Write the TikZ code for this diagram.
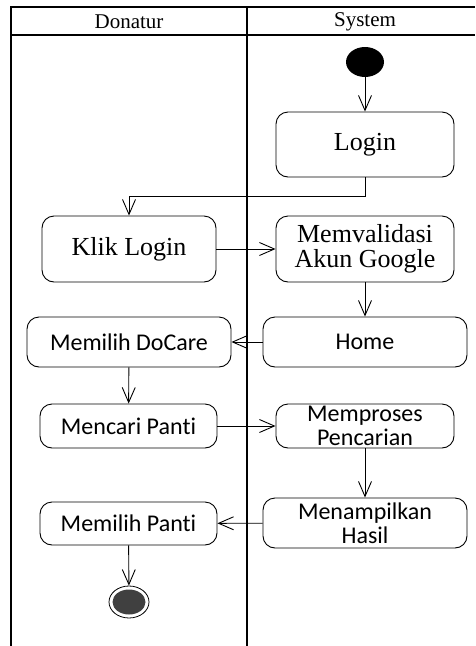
\documentclass[tikz,border=0pt]{standalone}
\usepackage{fontspec}
\setmainfont{Liberation Serif}
\newfontfamily\calibri[Ligatures=NoCommon]{Carlito}
\usetikzlibrary{positioning,arrows.meta,shapes.geometric}
\tikzset{
  lane/.style   = {line width=1.3pt},
  act/.style    = {draw, rectangle, rounded corners=12pt, line width=0.9pt,
                   align=center, inner sep=0pt,
                   font=\fontsize{26}{25}\selectfont},
  acts/.style   = {act, font=\calibri\fontsize{24}{24.5}\selectfont},
  head/.style   = {font=\fontsize{21}{21}\selectfont},
  flow/.style   = {-{Straight Barb[length=15pt,width=13pt]}, line width=0.9pt},
  startst/.style = {ellipse, fill=black, minimum width=38pt, minimum height=30pt, inner sep=0pt},
  endst/.style  = {ellipse, draw, line width=0.8pt, minimum width=40pt, minimum height=32pt, inner sep=0pt}
}

\begin{document}
\begin{tikzpicture}[x=1pt,y=-1pt]
  \useasboundingbox (0,0) rectangle (475,646);
  \draw[lane] (11,646) -- (11,7) -- (475,7);
  \draw[lane] (11,35) -- (475,35);
  \draw[lane] (247,7) -- (247,646);
  \node[head] (hd) at (129,22) {Donatur};
  \node[head] (hs) at (365,22) {System};

  \node[startst] (S) at (365,62) {};
  \node[act, minimum width=178pt, minimum height=65pt] (L) at (365,144.5) {Login};
  \node[act, minimum width=174pt, minimum height=66pt] (K) at (129,249) {Klik Login};
  \node[act, minimum width=178pt, minimum height=66pt] (M) at (365,249) {Memvalidasi\\Akun Google};
  \node[acts, minimum width=204pt, minimum height=50pt] (H) at (365,342) {Home};
  \node[acts, minimum width=204pt, minimum height=50pt] (D) at (129,342) {Memilih DoCare};
  \node[acts, minimum width=177pt, minimum height=44pt] (C) at (128.5,426) {Mencari Panti};
  \node[acts, minimum width=178pt, minimum height=44pt] (P) at (365,426) {Memproses\\Pencarian};
  \node[acts, minimum width=204pt, minimum height=50pt] (T) at (365,523) {Menampilkan\\Hasil};
  \node[acts, minimum width=177pt, minimum height=43pt] (MP) at (128.5,523.5) {Memilih Panti};
  \node[endst] (E) at (129,602) {};
  \fill[black!75] (E.center) ellipse (16.5pt and 12.5pt);

  \draw[flow] (S) -- (L);
  \draw[flow] (L.south) -- ++(0,19) -| (K.north);
  \draw[flow] (K) -- (M);
  \draw[flow] (M) -- (H);
  \draw[flow] (H) -- (D);
  \draw[flow] (D) -- (C);
  \draw[flow] (C) -- (P);
  \draw[flow] (P) -- (T);
  \draw[flow] (T) -- (MP);
  \draw[flow] (MP) -- (E);
\end{tikzpicture}
\end{document}
